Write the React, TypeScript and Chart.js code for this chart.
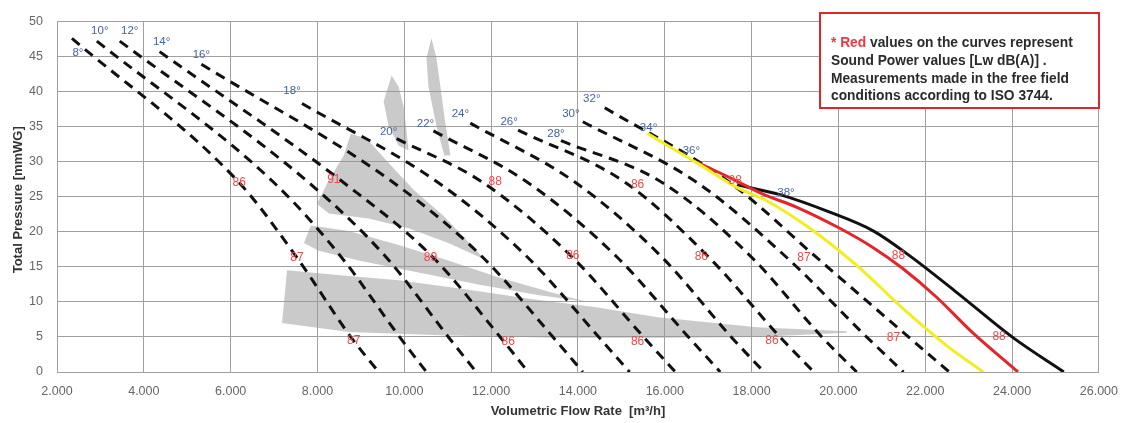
import React, { useEffect, useRef } from "react";
import { Chart, registerables } from "chart.js";
Chart.register(...registerables);

// ---- axes ----
const X_MIN = 2000;
const X_MAX = 26000;
const X_STEP = 2000;
const Y_MIN = 0;
const Y_MAX = 50;
const Y_STEP = 5;

// ---- dashed blade-angle curves [flow m3/h, pressure mmWG] ----
const curve08 = [[2344, 47.6], [6198, 27.0], [7529, 16.3], [8767, 5.0], [9410, 0]];
const curve10 = [[2918, 47.2], [7001, 27.0], [8561, 16.3], [9891, 5.0], [10511, 0]];
const curve12 = [[3445, 47.2], [7804, 27.0], [9593, 16.3], [11015, 5.0], [11658, 0]];
const curve14 = [[4363, 45.7], [8607, 27.0], [10671, 16.3], [12208, 5.0], [12851, 0]];
const curve16 = [[5326, 43.9], [9754, 27.0], [11818, 16.3], [13424, 5.0], [14112, 0]];
const curve18 = [[7643, 38.3], [10786, 27.0], [12851, 16.3], [14479, 5.0], [15191, 0]];
const curve20 = [[9823, 33.3], [11818, 27.0], [13883, 16.3], [15511, 5.0], [16246, 0]];
const curve22 = [[10671, 34.4], [12851, 27.0], [14915, 16.3], [16544, 5.0], [17278, 0]];
const curve24 = [[11520, 35.5], [13952, 27.0], [15948, 16.3], [17530, 5.0], [18287, 0]];
const curve26 = [[12621, 34.5], [15099, 27.0], [17026, 16.3], [18654, 5.0], [19434, 0]];
const curve28 = [[13608, 33.0], [15948, 27.0], [18012, 16.3], [19618, 5.0], [20421, 0]];
const curve30 = [[14112, 35.7], [16750, 27.0], [18815, 16.3], [20650, 5.0], [21499, 0]];
const curve32 = [[14617, 37.7], [17507, 27.0], [19503, 16.3], [21614, 5.0], [22554, 0]];
const dashedCurves = [curve08, curve10, curve12, curve14, curve16, curve18, curve20,
  curve22, curve24, curve26, curve28, curve30, curve32];

// ---- solid curves ----
const curve34Yellow = [[15603, 34.0], [16750, 29.8], [17668, 26.3], [18356, 24.4], [19343, 20.5],
  [20421, 15.2], [21568, 8.6], [22485, 3.8], [23334, 0]];
const curve36Red = [[16750, 29.9], [17507, 27.7], [18287, 25.3], [19044, 23.5], [20031, 20.5],
  [20811, 17.7], [21453, 14.9], [22256, 10.7], [23059, 5.8], [24137, 0]];
const curve38Black = [[17668, 26.7], [18654, 25.3], [19801, 22.8], [20811, 20.1], [21637, 16.6],
  [22715, 11.4], [24022, 4.9], [25192, 0]];

// ---- grey efficiency zones (closed outlines) ----
const zoneLower = [[7299, 14.5], [8331, 13.9], [9868, 13.1], [11405, 11.8], [12920, 10.4], [14456, 9.2],
  [15833, 7.8], [18127, 6.4], [20191, 5.8], [20191, 5.6], [18127, 5.0], [15833, 4.9], [13539, 4.9],
  [11015, 5.2], [8721, 5.7], [7184, 7.0]];
const zoneMiddle = [[7689, 18.4], [7850, 20.9], [8721, 20.1], [9868, 18.1], [11015, 15.9], [12162, 13.5],
  [13539, 11.1], [14227, 10.0], [13080, 11.0], [11704, 12.5], [10327, 14.2], [8950, 15.9], [8033, 17.3]];
const zoneCrescent = [[8767, 34.0], [9134, 33.3], [9639, 29.8], [10213, 26.0], [10901, 22.3], [11864, 16.0],
  [11015, 18.4], [10098, 20.5], [9180, 21.9], [8263, 22.6], [7987, 24.0], [8263, 27.4], [8607, 30.9]];
const zoneFeather1 = [[9708, 42.3], [9868, 40.7], [9983, 37.9], [10052, 34.4], [10098, 31.6], [9868, 32.3],
  [9639, 35.1], [9524, 38.6]];
const zoneFeather2 = [[10625, 47.6], [10740, 44.8], [10832, 40.7], [10923, 36.5], [11061, 30.9], [10923, 30.9],
  [10740, 35.1], [10557, 40.7], [10511, 44.8]];
const zones = [zoneLower, zoneMiddle, zoneCrescent, zoneFeather1, zoneFeather2];

// ---- blade angle labels ----
const angleText = ["8°", "10°", "12°", "14°", "16°", "18°", "20°", "22°", "24°", "26°", "28°", "30°", "32°", "34°", "36°", "38°"];
const angleX = [2482, 2986, 3675, 4409, 5326, 7414, 9639, 10488, 11291, 12415, 13493, 13837, 14319, 15626, 16613, 18792];
const angleY = [45.5, 48.7, 48.7, 47.1, 45.3, 40.1, 34.3, 35.4, 36.8, 35.7, 34.0, 36.8, 38.9, 34.8, 31.6, 25.6];

// ---- sound power labels ----
const soundText = ["86", "91", "88", "86", "88", "87", "89", "86", "86", "87", "88", "87", "86", "86", "86", "87", "88"];
const soundX = [6198, 8377, 12094, 15374, 17622, 7529, 10603, 13883, 16842, 19205, 21384, 8836, 12392, 15374, 18471, 21270, 23701];
const soundY = [27.0, 27.4, 27.2, 26.7, 27.3, 16.3, 16.3, 16.6, 16.4, 16.3, 16.6, 4.5, 4.3, 4.3, 4.5, 4.9, 5.0];

const noteLines = [
  ["* Red", " values on the curves represent"],
  ["", "Sound Power values [Lw dB(A)] ."],
  ["", "Measurements made in the free field"],
  ["", "conditions according to ISO 3744."],
];

const toPts = (arr: number[][]) => arr.map(([x, y]) => ({ x, y }));
const fmt = (v: number) => {
  const k = Math.floor(v / 1000);
  const r = String(Math.round(v % 1000)).padStart(3, "0");
  return `${k}.${r}`;
};

const FONT = '"Liberation Sans", Arial, sans-serif';

const overlay = {
  id: "overlay",
  afterDatasetsDraw(chart: any) {
    const { ctx, scales, chartArea } = chart;
    const xs = scales.x, ys = scales.y;
    ctx.save();
    ctx.textAlign = "center";
    ctx.textBaseline = "middle";
    ctx.font = `11.5px ${FONT}`;
    ctx.fillStyle = "#4463a3";
    angleText.forEach((t, i) => {
      ctx.fillText(t, xs.getPixelForValue(angleX[i]), ys.getPixelForValue(angleY[i]));
    });
    ctx.font = `12px ${FONT}`;
    ctx.fillStyle = "#f0474a";
    soundText.forEach((t, i) => {
      ctx.fillText(t, xs.getPixelForValue(soundX[i]), ys.getPixelForValue(soundY[i]));
    });

    // axis titles
    ctx.fillStyle = "#333";
    ctx.font = `bold 13px ${FONT}`;
    ctx.fillText("Volumetric Flow Rate  [m³/h]", (chartArea.left + chartArea.right) / 2, 411);
    ctx.save();
    ctx.translate(18, (chartArea.top + chartArea.bottom) / 2 + 3);
    ctx.rotate(-Math.PI / 2);
    ctx.fillText("Total Pressure [mmWG]", 0, 0);
    ctx.restore();

    // note box
    const bx = 820, by = 13, bw = 279, bh = 95;
    ctx.fillStyle = "#fff";
    ctx.fillRect(bx, by, bw, bh);
    ctx.strokeStyle = "#e0262b";
    ctx.lineWidth = 2;
    ctx.strokeRect(bx, by, bw, bh);
    ctx.textAlign = "left";
    ctx.textBaseline = "alphabetic";
    ctx.font = `bold 12px ${FONT}`;
    const w = ctx.measureText(noteLines[2][1]).width;
    const size = 12 * 238 / w;
    ctx.font = `bold ${size}px ${FONT}`;
    noteLines.forEach(([red, rest], i) => {
      const yy = 47 + i * 17.8;
      let xx = 831;
      if (red) {
        ctx.fillStyle = "#ec3a3f";
        ctx.fillText(red, xx, yy);
        xx += ctx.measureText(red).width;
      }
      ctx.fillStyle = "#2b2b2b";
      ctx.fillText(rest, xx, yy);
    });
    ctx.restore();
  },
};

export default function App() {
  const ref = useRef<HTMLCanvasElement>(null);
  useEffect(() => {
    document.body.style.margin = "0";
    const datasets: any[] = [];
    zones.forEach((z) => {
      datasets.push({
        data: toPts([...z, z[0]]),
        showLine: true,
        fill: "shape",
        backgroundColor: "rgba(150,150,150,0.5)",
        borderWidth: 0,
        borderColor: "rgba(0,0,0,0)",
        pointRadius: 0,
        order: 10,
      });
    });
    dashedCurves.forEach((c) => {
      datasets.push({
        data: toPts(c),
        showLine: true,
        borderColor: "#111",
        borderWidth: 3,
        borderDash: [10, 7],
        cubicInterpolationMode: "monotone",
        pointRadius: 0,
        fill: false,
        order: 2,
      });
    });
    [
      [curve34Yellow, "#f2ee1f"],
      [curve36Red, "#e3262a"],
      [curve38Black, "#111"],
    ].forEach(([c, col]: any) => {
      datasets.push({
        data: toPts(c),
        showLine: true,
        borderColor: col,
        borderWidth: 3,
        cubicInterpolationMode: "monotone",
        pointRadius: 0,
        fill: false,
        order: 1,
      });
    });

    const chart = new Chart(ref.current!, {
      type: "scatter",
      data: { datasets },
      plugins: [overlay],
      options: {
        animation: false,
        responsive: true,
        maintainAspectRatio: false,
        layout: { padding: { left: 0, right: 27, top: 13, bottom: 0 } },
        plugins: { legend: { display: false }, tooltip: { enabled: false } },
        scales: {
          x: {
            type: "linear",
            min: X_MIN,
            max: X_MAX,
            afterFit: (s: any) => { s.height = 51; },
            ticks: {
              stepSize: X_STEP,
              callback: (v: any) => fmt(Number(v)),
              color: "#666",
              font: { size: 12.5, family: FONT },
              padding: 12,
              maxRotation: 0,
            },
            grid: { color: "#a0a0a0", lineWidth: 1, drawTicks: false },
            border: { color: "#a0a0a0" },
          },
          y: {
            type: "linear",
            min: Y_MIN,
            max: Y_MAX,
            afterFit: (s: any) => { s.width = 57; },
            ticks: {
              stepSize: Y_STEP,
              color: "#666",
              font: { size: 12.5, family: FONT },
              padding: 14,
            },
            grid: { color: "#a0a0a0", lineWidth: 1, drawTicks: false },
            border: { color: "#a0a0a0" },
          },
        },
      },
    });
    return () => chart.destroy();
  }, []);
  return (
    <div style={{ position: "relative", width: 1130, height: 423 }}>
      <canvas ref={ref} />
    </div>
  );
}
